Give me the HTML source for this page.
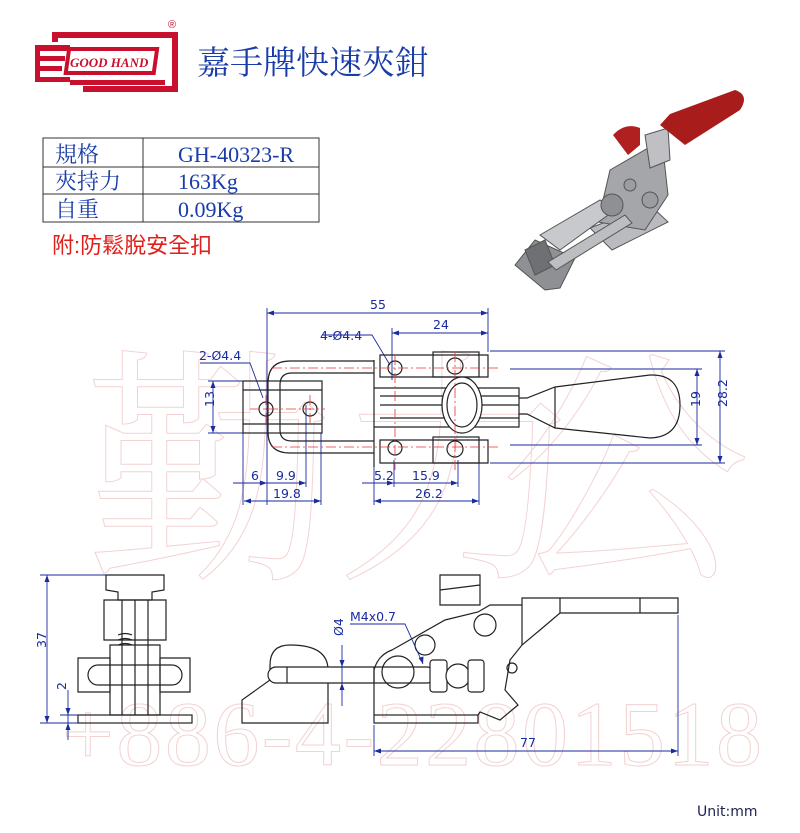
<!DOCTYPE html>
<html><head><meta charset="utf-8"><style>
html,body{margin:0;padding:0;background:#fff;width:800px;height:833px;overflow:hidden}
svg{display:block}
.b{fill:none;stroke:#222;stroke-width:1.2}
.d{fill:none;stroke:#1a2aa0;stroke-width:0.9}
.c{fill:none;stroke:#e33;stroke-width:0.8;stroke-dasharray:10 3 2 3}
.t{font-family:"DejaVu Sans","Liberation Sans",sans-serif;font-size:12.5px;fill:#1a2aa0}
.w{fill:none;stroke:#f3d2d2;stroke-width:1}
</style></head><body>
<svg width="800" height="833" viewBox="0 0 800 833" xmlns="http://www.w3.org/2000/svg">
<!-- watermark -->
<text x="85" y="560" font-family="Noto Serif CJK SC,serif" font-size="250" class="w">勤力</text>
<text x="500" y="560" font-family="Noto Serif CJK SC,serif" font-size="250" class="w">公</text>
<text x="62" y="765" font-family="Liberation Serif,serif" font-size="92" class="w" textLength="700">+886-4-22801518</text>

<!-- logo -->
<g fill="#c8102e">
<path d="M52 32 h122 v6 h-116 v4 h-6z"/>
<path d="M35 45 h35 v6 h-30 v5 h25 v5 h-25 v5 h22 v5 h-22 v6 h30 v5 h-35z"/>
<path d="M174 32 h4 v60 h-95 v-6 h89 v-50 h-6z"/>
<path d="M70 80 h95 v5 h-95z"/>
</g>
<rect x="68" y="49" width="88" height="24" fill="#fff" stroke="#c8102e" stroke-width="4" transform="skewX(-8) translate(8 0)"/>
<text x="70" y="67" font-family="Liberation Serif,serif" font-style="italic" font-weight="bold" font-size="13" fill="#c8102e">GOOD HAND</text>
<text x="168" y="28" font-family="Liberation Sans,sans-serif" font-size="11" fill="#c8102e">®</text>
<text x="197" y="74" font-family="Liberation Serif,'Noto Serif CJK SC',serif" font-size="33" fill="#1a3ca8">嘉手牌快速夾鉗</text>

<!-- table -->
<g stroke="#333" stroke-width="1" fill="none">
<rect x="43" y="138" width="276" height="84"/>
<line x1="43" y1="167" x2="319" y2="167"/><line x1="43" y1="194" x2="319" y2="194"/>
<line x1="143" y1="138" x2="143" y2="222"/>
</g>
<g font-family="Liberation Serif,'Noto Serif CJK SC',serif" font-size="22" fill="#1a3ca8">
<text x="55" y="162">規格</text><text x="178" y="162">GH-40323-R</text>
<text x="55" y="189">夾持力</text><text x="178" y="189">163Kg</text>
<text x="55" y="217">自重</text><text x="178" y="217">0.09Kg</text>
</g>
<text x="52" y="253" font-family="Liberation Sans,'Noto Sans CJK TC',sans-serif" font-size="22" fill="#e0201a">附:防鬆脫安全扣</text>

<!-- photo -->
<g stroke="#555" stroke-width="1">
<path d="M515 265 L535 240 L575 258 L560 288 L545 290 Z" fill="#8e9094"/>
<path d="M590 228 L650 205 L668 222 L612 250 Z" fill="#b9bbbe"/>
<path d="M610 170 L662 140 L668 195 L645 230 L598 222 Z" fill="#a4a6aa"/>
<path d="M540 235 L600 200 L615 210 L560 250Z" fill="#c8c9cc"/>
<path d="M525 250 L545 240 L555 265 L535 275Z" fill="#6e7074"/>
<path d="M548 262 L625 215 L632 223 L556 270Z" fill="#bdbec1"/>
<circle cx="612" cy="205" r="11" fill="#8e9094"/>
<circle cx="650" cy="200" r="8" fill="#9b9da0"/>
<circle cx="630" cy="185" r="6" fill="#9b9da0"/>
<path d="M645 135 L668 128 L670 160 L650 168 Z" fill="#c0c0c4"/>
</g>
<path d="M660 125 L670 114 L735 90 Q750 95 740 110 L685 145 Z" fill="#a81c1c"/>
<path d="M613 135 Q625 122 640 128 L640 145 L628 155 Z" fill="#b02020"/>

<!-- TOP VIEW -->
<g class="d">
<line x1="267" y1="313" x2="488" y2="313"/><line x1="392" y1="333" x2="488" y2="333"/>
<line x1="267" y1="308" x2="267" y2="505"/><line x1="488" y1="308" x2="488" y2="352"/>
<line x1="392" y1="328" x2="392" y2="380"/>
<line x1="490" y1="351" x2="725" y2="351"/><line x1="490" y1="463" x2="725" y2="463"/>
<line x1="720" y1="351" x2="720" y2="463"/>
<line x1="510" y1="369" x2="702" y2="369"/><line x1="510" y1="445" x2="702" y2="445"/>
<line x1="697" y1="369" x2="697" y2="445"/>
<line x1="208" y1="381" x2="243" y2="381"/><line x1="208" y1="433" x2="243" y2="433"/>
<line x1="213" y1="381" x2="213" y2="433"/>
<line x1="233" y1="483" x2="306" y2="483"/><line x1="362" y1="483" x2="458" y2="483"/>
<line x1="244" y1="501" x2="321" y2="501"/><line x1="374" y1="501" x2="479" y2="501"/>
<line x1="243" y1="433" x2="243" y2="505"/><line x1="306" y1="405" x2="306" y2="487"/>
<line x1="321" y1="433" x2="321" y2="505"/><line x1="374" y1="460" x2="374" y2="505"/>
<line x1="394" y1="460" x2="394" y2="487"/><line x1="458" y1="460" x2="458" y2="487"/>
<line x1="479" y1="460" x2="479" y2="505"/>
<polyline points="200,363 250,363 263,398"/>
<polyline points="322,335 372,335 390,365"/>
</g>
<g fill="#1a2aa0">
<path d="M267 313 l7 -2.5 v5z M488 313 l-7 -2.5 v5z M392 333 l7 -2.5 v5z M488 333 l-7 -2.5 v5z"/>
<path d="M720 351 l-2.5 7 h5z M720 463 l-2.5 -7 h5z M697 369 l-2.5 7 h5z M697 445 l-2.5 -7 h5z M213 381 l-2.5 7 h5z M213 433 l-2.5 -7 h5z"/>
<path d="M267 483 l-7 -2.5 v5z M306 483 l-7 -2.5 v5z M394 483 l-7 -2.5 v5z M458 483 l-7 -2.5 v5z M244 501 l7 -2.5 v5z M321 501 l-7 -2.5 v5z M374 501 l7 -2.5 v5z M479 501 l-7 -2.5 v5z"/>
</g>
<g class="t">
<text x="370" y="309">55</text><text x="433" y="329">24</text>
<text x="320" y="340">4-Ø4.4</text><text x="199" y="360">2-Ø4.4</text>
<text x="208" y="413" transform="rotate(-90 208 407)">13</text>
<text x="694" y="413" transform="rotate(-90 694 407)">19</text>
<text x="716" y="418" transform="rotate(-90 716 407)">28.2</text>
<text x="251" y="480">6</text><text x="276" y="480">9.9</text>
<text x="374" y="480">5.2</text><text x="412" y="480">15.9</text>
<text x="273" y="498">19.8</text><text x="415" y="498">26.2</text>
</g>
<g class="b">
<rect x="243" y="381" width="79" height="52"/>
<line x1="243" y1="390" x2="322" y2="390"/><line x1="243" y1="424" x2="322" y2="424"/>
<path d="M374 361 H290 Q268 361 268 383 V432 Q268 453 290 453 H374"/>
<path d="M374 373 H292 Q280 373 280 385 V430 Q280 441 292 441 H374"/>
<circle cx="266" cy="409" r="7"/><circle cx="310" cy="409" r="7"/>
<path d="M374 360 V467 M374 388 H519 V427 H374 M380 396 H519 M380 405 H519 M380 418 H519"/>
<path d="M380 355 H488 V377 H380 Z"/><path d="M380 440 H488 V463 H380 Z"/>
<rect x="433" y="352" width="46" height="25"/><rect x="433" y="437" width="46" height="26"/>
<circle cx="395" cy="368" r="7"/><circle cx="395" cy="448" r="7"/>
<circle cx="455" cy="366" r="8"/><circle cx="455" cy="449" r="8"/>
<ellipse cx="462" cy="405" rx="20" ry="28" fill="#fff"/>
<ellipse cx="462" cy="405" rx="15" ry="22"/>
<path d="M519 398 L527 398 L555 387 L650 375 Q680 374 680 405 Q680 437 650 438 L555 428 L527 414 L519 414"/>
<line x1="555" y1="387" x2="555" y2="428"/>
</g>
<g class="c">
<line x1="272" y1="368" x2="500" y2="368"/><line x1="272" y1="447" x2="500" y2="447"/>
<line x1="250" y1="409" x2="325" y2="409"/><line x1="266" y1="395" x2="266" y2="423"/>
<line x1="310" y1="395" x2="310" y2="423"/><line x1="395" y1="355" x2="395" y2="470"/>
<line x1="455" y1="352" x2="455" y2="470"/>
</g>

<!-- FRONT VIEW -->
<g class="d">
<line x1="40" y1="575" x2="110" y2="575"/><line x1="40" y1="723" x2="78" y2="723"/>
<line x1="47" y1="575" x2="47" y2="723"/>
<line x1="60" y1="715" x2="78" y2="715"/><line x1="68" y1="690" x2="68" y2="740"/>
</g>
<path d="M47 575 l-2.5 7 h5z M47 723 l-2.5 -7 h5z M68 715 l-2.5 -7 h5z M68 723 l-2.5 7 h5z" fill="#1a2aa0"/>
<text class="t" x="38" y="656" transform="rotate(-90 38 648)">37</text>
<text class="t" x="60" y="696" transform="rotate(-90 60 690)">2</text>
<g class="b">
<rect x="78" y="715" width="114" height="8"/>
<path d="M106 575 H164 V590 L152 592 V600 L118 600 V592 L106 590 Z"/>
<path d="M104 600 H166 V640 H104 Z"/>
<path d="M110 645 H160 V715 H110 Z"/>
<line x1="122" y1="600" x2="122" y2="715"/><line x1="135" y1="600" x2="135" y2="715"/><line x1="148" y1="600" x2="148" y2="715"/>
<path d="M78 658 L110 658 L110 692 L78 692 Z"/><path d="M160 658 L190 658 L190 692 L160 692 Z"/>
<rect x="88" y="665" width="94" height="20" rx="10"/>
<path d="M118 635 q7 -3 14 0 M118 640 q7 -3 14 0 M118 645 q7 -3 14 0"/>
</g>

<!-- SIDE VIEW -->
<g class="b">
<path d="M242 723 V700 L270 680 V665 Q270 645 290 645 Q328 645 328 670 V723 Z"/>
<rect x="268" y="667" width="167" height="16" rx="8" fill="#fff"/>
<line x1="287" y1="667" x2="287" y2="683"/>
<line x1="374" y1="667" x2="374" y2="683"/>
<rect x="374" y="715" width="104" height="8"/>
<path d="M374 715 V670 Q378 655 392 650 L445 620 L478 612 L490 605 L522 605 V598 H678 V613 H560 L540 630 L522 645 L510 660 L505 690 L518 705 L500 720 L480 712 L478 715"/>
<path d="M440 575 H480 V605 H440 Z M440 590 L480 585"/>
<circle cx="398" cy="672" r="16"/><circle cx="425" cy="645" r="10"/><circle cx="485" cy="625" r="11"/><circle cx="512" cy="668" r="5"/>
<rect x="430" y="660" width="17" height="32" rx="3" fill="#fff"/>
<circle cx="458" cy="676" r="12" fill="#fff"/>
<rect x="468" y="660" width="16" height="32" rx="3" fill="#fff"/>
<line x1="522" y1="605" x2="522" y2="645"/><line x1="560" y1="598" x2="560" y2="613"/><line x1="640" y1="598" x2="640" y2="613"/>
</g>
<g class="d">
<line x1="342" y1="645" x2="342" y2="706"/>
<polyline points="350,624 405,624 423,664"/>
<line x1="374" y1="725" x2="374" y2="756"/><line x1="678" y1="615" x2="678" y2="756"/>
<line x1="374" y1="751" x2="678" y2="751"/>
</g>
<path d="M342 667 l-2.5 -7 h5z M342 683 l-2.5 7 h5z M423 664 l-4.5 -6 l5 -1.5z M374 751 l7 -2.5 v5z M678 751 l-7 -2.5 v5z" fill="#1a2aa0"/>
<text class="t" x="350" y="621">M4x0.7</text>
<text class="t" x="337" y="642" transform="rotate(-90 337 636)">Ø4</text>
<text class="t" x="520" y="747">77</text>

<text x="697" y="816" font-family="DejaVu Sans,Liberation Sans,sans-serif" font-size="14" fill="#1a2050">Unit:mm</text>
</svg>
</body></html>
